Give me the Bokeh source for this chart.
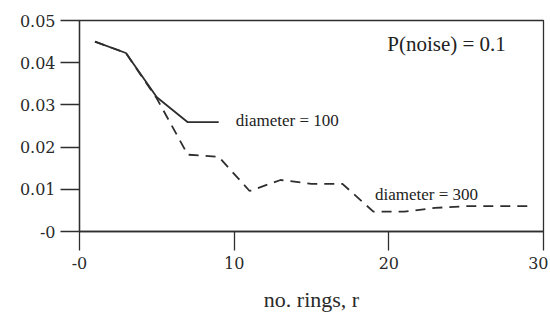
from bokeh.plotting import figure
from bokeh.models import FixedTicker, CustomJSTickFormatter, Range1d
from bokeh.core.properties import value
from bokeh.embed import file_html
from bokeh.resources import INLINE

# data
r_100 = [1, 3, 5, 7, 9]
err_100 = [0.045, 0.0423, 0.0318, 0.0259, 0.0259]

r_300 = [1, 3, 5, 7, 9, 11, 13, 15, 17, 19, 21, 23, 25, 27, 29]
err_300 = [0.045, 0.0423, 0.0315, 0.0182, 0.0177, 0.0096, 0.0122, 0.0113,
           0.0113, 0.0047, 0.0047, 0.0056, 0.006, 0.006, 0.006]

x_ticks = [0, 10, 20, 30]
y_ticks = [0, 0.01, 0.02, 0.03, 0.04, 0.05]

labels = ["diameter = 100", "diameter = 300", "P(noise) = 0.1"]
label_x = [10.1, 19.1, 19.9]
label_y = [0.0263, 0.0087, 0.0445]

INK = "#2e2e2e"

p = figure(width=548, height=314, output_backend="svg", toolbar_location=None,
           x_range=Range1d(0, 30), y_range=Range1d(0, 0.05),
           min_border_left=79, min_border_top=20, min_border_right=5,
           min_border_bottom=83)
p.background_fill_color = "white"
p.border_fill_color = "white"
p.grid.visible = False
p.outline_line_color = INK
p.outline_line_width = 1.3

for ax in (p.xaxis[0], p.yaxis[0]):
    ax.axis_line_color = INK
    ax.axis_line_width = 1.3
    ax.major_tick_line_color = INK
    ax.major_tick_line_width = 1.3
    ax.major_tick_out = 19
    ax.major_tick_in = 0
    ax.minor_tick_line_color = None
    ax.major_label_text_font = "DejaVu Serif"
    ax.major_label_text_font_size = "16px"
    ax.major_label_text_color = "#2a2a2a"

p.xaxis.ticker = FixedTicker(ticks=x_ticks)
p.yaxis.ticker = FixedTicker(ticks=y_ticks)
p.xaxis.formatter = CustomJSTickFormatter(code="return tick == 0 ? '-0' : tick.toFixed(0);")
p.yaxis.formatter = CustomJSTickFormatter(code="return Math.abs(tick) < 1e-9 ? '-0' : tick.toFixed(2);")
p.xaxis.major_label_standoff = 6
p.yaxis.major_label_standoff = 5

p.xaxis.axis_label = "no. rings, r"
p.xaxis.axis_label_text_font = "Liberation Serif"
p.xaxis.axis_label_text_font_style = "normal"
p.xaxis.axis_label_text_font_size = "22px"
p.xaxis.axis_label_text_color = "#2a2a2a"
p.xaxis.axis_label_standoff = 15

p.line(r_100, err_100, line_color=INK, line_width=1.8)
p.line(r_300, err_300, line_color=INK, line_width=1.8, line_dash="10 7")

p.text(x=label_x[:2], y=label_y[:2], text=labels[:2],
       text_font=value("Liberation Serif"), text_font_size="17px",
       text_baseline="middle", text_align="left", text_color="#222222")
p.text(x=[label_x[2]], y=[label_y[2]], text=[labels[2]],
       text_font=value("Liberation Serif"), text_font_size="21px",
       text_baseline="middle", text_align="left", text_color="#222222")

open("out.html", "w").write(file_html(p, INLINE))
